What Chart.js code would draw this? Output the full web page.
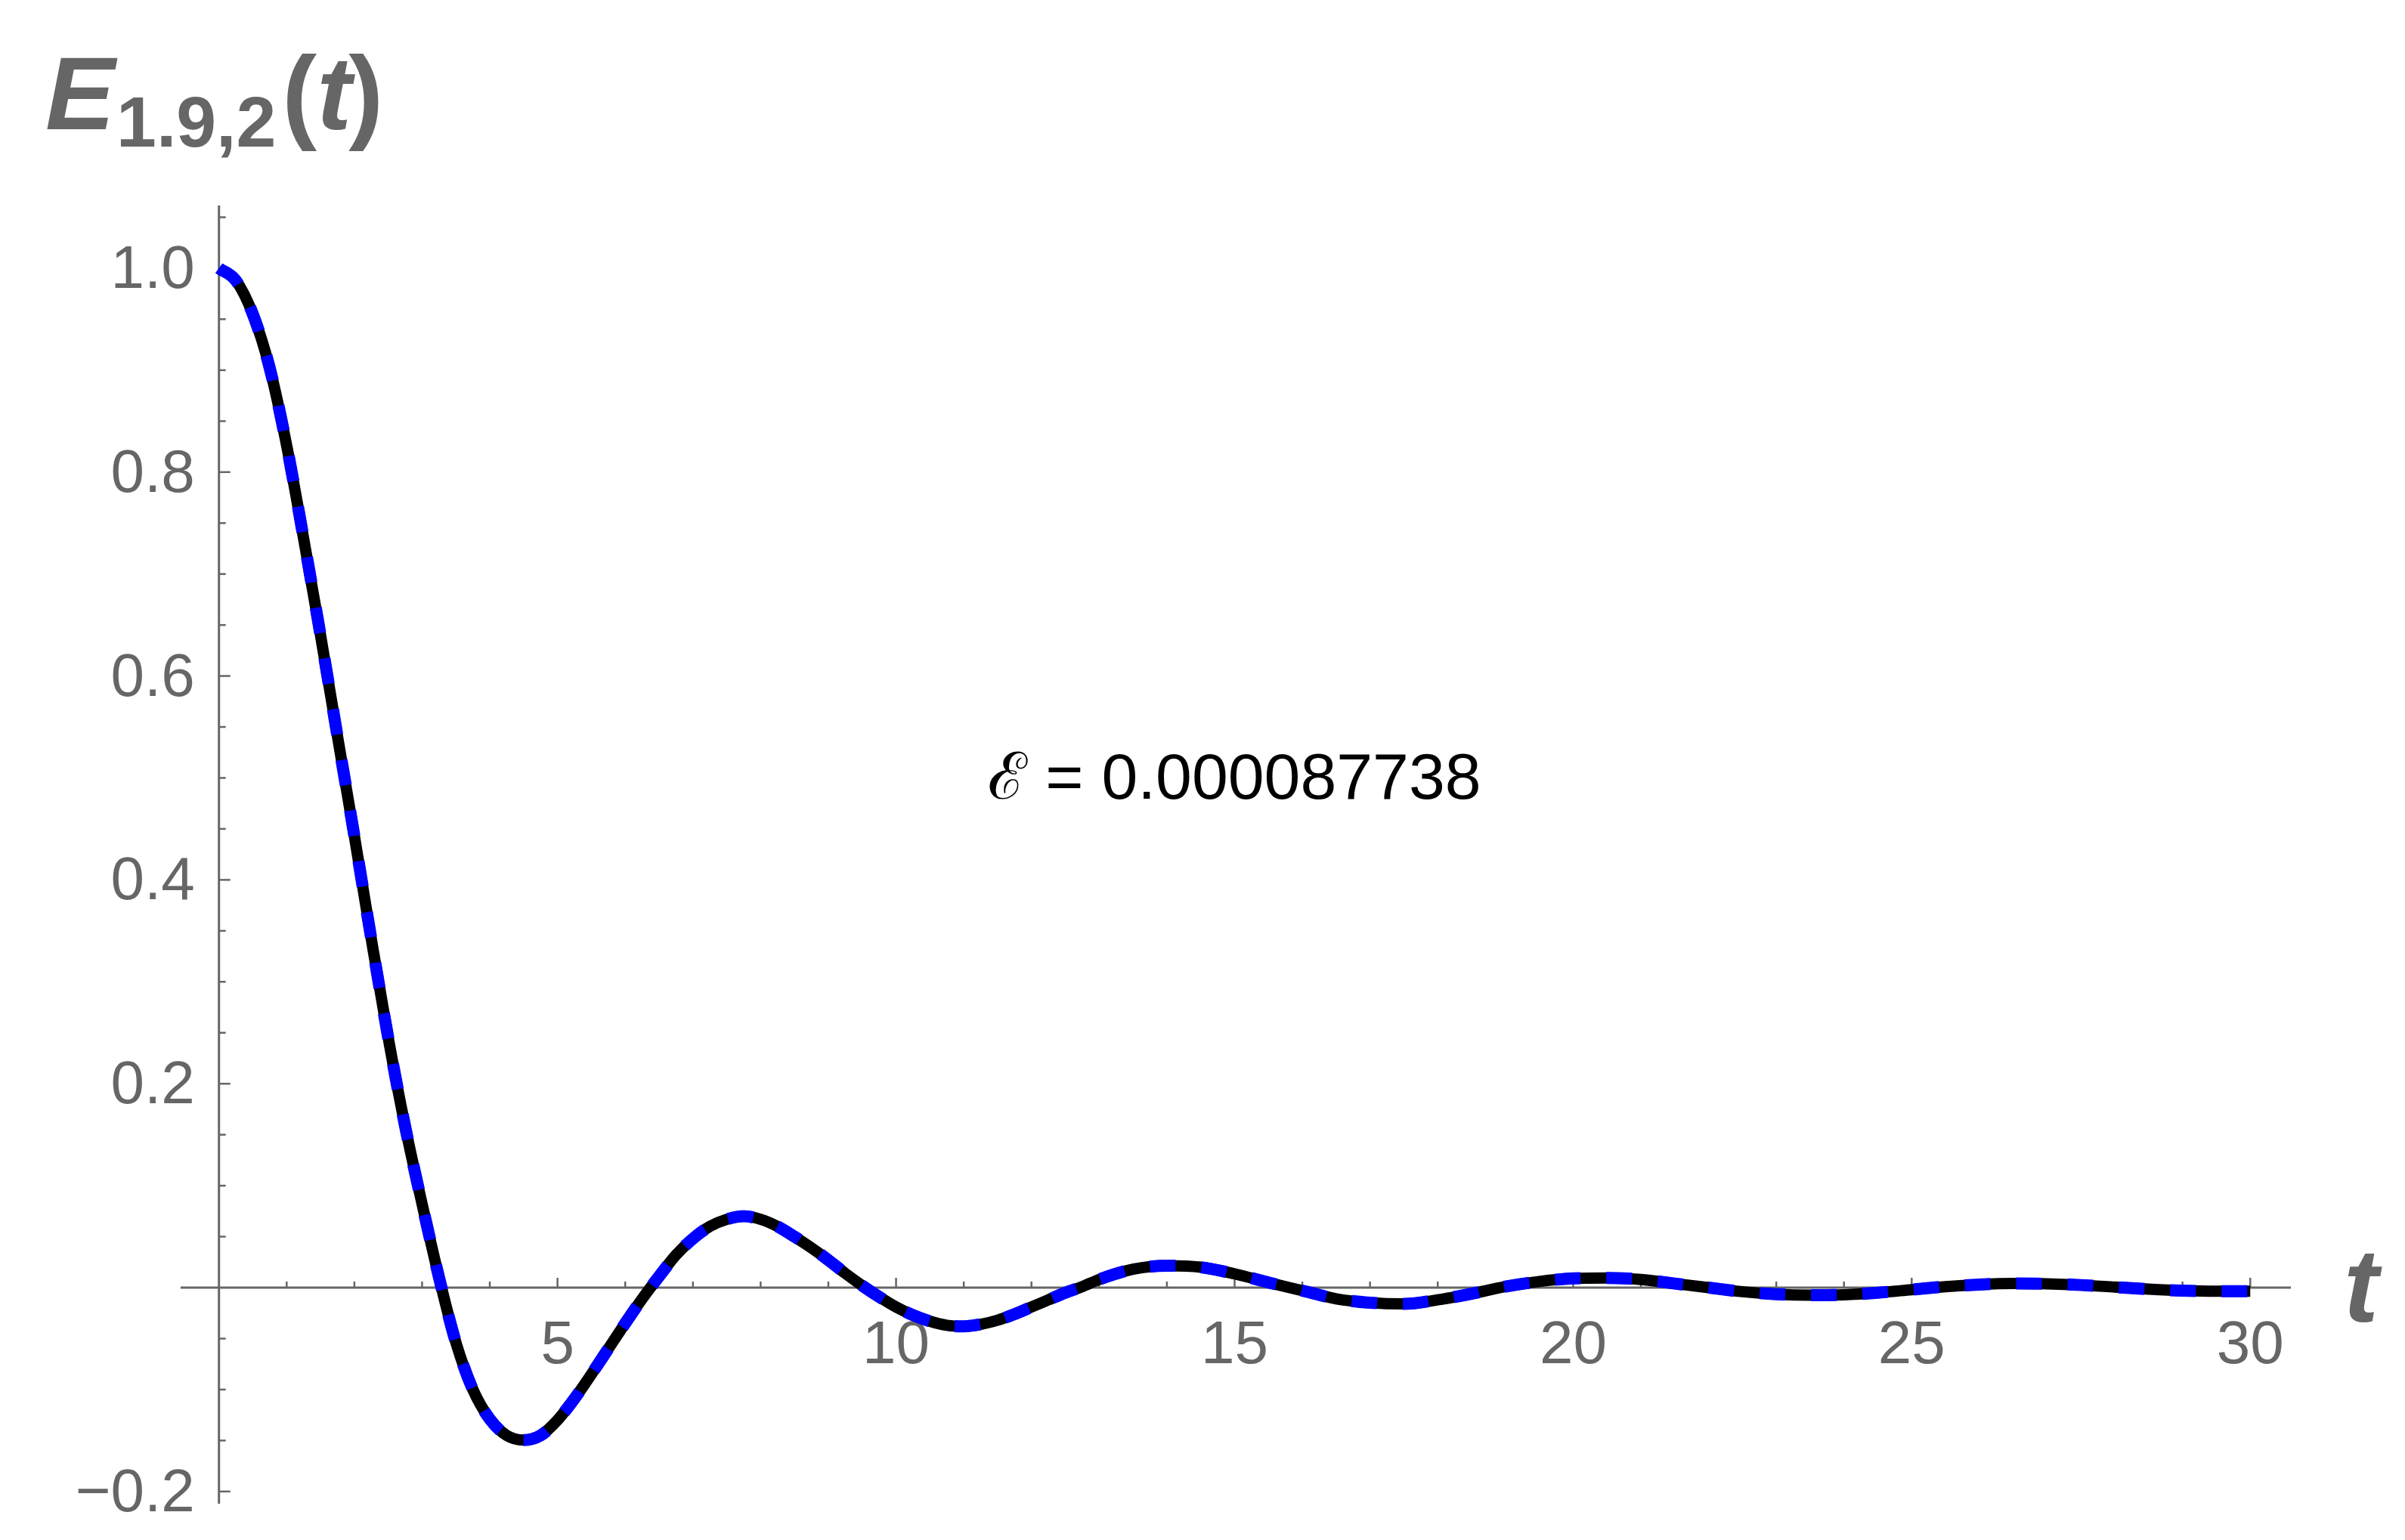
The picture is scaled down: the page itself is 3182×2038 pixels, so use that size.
<!DOCTYPE html>
<html>
<head>
<meta charset="utf-8">
<script src="https://cdn.jsdelivr.net/npm/chart.js@4.4.1/dist/chart.umd.min.js"></script>
<style>
  html, body { margin: 0; padding: 0; background: #fff; }
  canvas { display: block; }
</style>
</head>
<body>
<canvas id="plot" width="3182" height="2038"></canvas>
<script>
(function() {
  const tValues = [
    0, 0.25, 0.5, 0.75, 1, 1.25, 1.5, 1.75, 2, 2.25, 2.5, 2.75, 3, 3.25, 3.5, 3.75,
    4, 4.25, 4.5, 4.75, 5, 5.25, 5.5, 5.75, 6, 6.25, 6.5, 6.75, 7, 7.25, 7.5, 7.75,
    8, 8.25, 8.5, 8.75, 9, 9.25, 9.5, 9.75, 10, 10.25, 10.5, 10.75, 11, 11.25, 11.5, 11.75,
    12, 12.25, 12.5, 12.75, 13, 13.5, 14, 14.5, 15, 15.5, 16, 16.5, 17, 17.5,
    18, 18.5, 19, 19.5, 20, 20.5, 21, 21.5, 22, 22.5, 23, 23.5, 24, 24.5,
    25, 25.5, 26, 26.5, 27, 27.5, 28, 28.5, 29, 29.5, 30
  ];
  const eValues = [
    1.000, 0.988, 0.955, 0.902, 0.826, 0.735, 0.640, 0.541, 0.443, 0.342, 0.245, 0.158, 0.082, 0.010, -0.054, -0.100,
    -0.129, -0.145, -0.1495, -0.145, -0.130, -0.109, -0.085, -0.060, -0.035, -0.011, 0.011, 0.032, 0.048, 0.060, 0.067, 0.070,
    0.067, 0.060, 0.050, 0.039, 0.027, 0.014, 0.002, -0.009, -0.019, -0.027, -0.033, -0.037, -0.038, -0.036, -0.032, -0.026,
    -0.019, -0.012, -0.005, 0.001, 0.008, 0.018, 0.0215, 0.020, 0.0135, 0.005, -0.003, -0.011, -0.0148, -0.016,
    -0.012, -0.006, 0.001, 0.006, 0.009, 0.0095, 0.008, 0.004, 0.000, -0.004, -0.0065, -0.0074, -0.007, -0.005,
    -0.002, 0.001, 0.003, 0.004, 0.0037, 0.0025, 0.0005, -0.0015, -0.003, -0.0036, -0.0035
  ];

  const xTicks = [5, 10, 15, 20, 25, 30];
  const xTickLabels = ['5', '10', '15', '20', '25', '30'];
  const yTicks = [-0.2, 0.2, 0.4, 0.6, 0.8, 1.0];
  const yTickLabels = ['\u22120.2', '0.2', '0.4', '0.6', '0.8', '1.0'];
  const xMinorTicks = [1, 2, 3, 4, 6, 7, 8, 9, 11, 12, 13, 14, 16, 17, 18, 19, 21, 22, 23, 24, 26, 27, 28, 29];
  const yMinorTicks = [-0.15, -0.1, -0.05, 0.05, 0.1, 0.15, 0.25, 0.3, 0.35, 0.45, 0.5, 0.55, 0.65, 0.7, 0.75, 0.85, 0.9, 0.95, 1.05];

  const errorLabel = '\u2130 = 0.000087738';
  const errorAt = { x: 15, y: 0.5 };

  const axisGray = '#666666';
  const tickFont = '80px "Liberation Sans", Arial, sans-serif';

  function line(ctx, x1, y1, x2, y2) {
    ctx.beginPath();
    ctx.moveTo(x1, y1);
    ctx.lineTo(x2, y2);
    ctx.stroke();
  }

  const axesPlugin = {
    id: 'crossedAxes',
    beforeDatasetsDraw(chart) {
      const { ctx, chartArea } = chart;
      const xs = chart.scales.x;
      const ys = chart.scales.y;
      const x0 = xs.getPixelForValue(0);
      const y0 = ys.getPixelForValue(0);

      ctx.save();
      ctx.strokeStyle = axisGray;
      ctx.lineWidth = 3;
      line(ctx, chartArea.left, y0, chartArea.right, y0);
      line(ctx, x0, chartArea.top, x0, chartArea.bottom);

      ctx.lineWidth = 2.5;
      xTicks.forEach(v => {
        const px = xs.getPixelForValue(v);
        line(ctx, px, y0, px, y0 - 13);
      });
      xMinorTicks.forEach(v => {
        const px = xs.getPixelForValue(v);
        line(ctx, px, y0, px, y0 - 8);
      });
      yTicks.forEach(v => {
        const py = ys.getPixelForValue(v);
        line(ctx, x0, py, x0 + 15, py);
      });
      yMinorTicks.forEach(v => {
        const py = ys.getPixelForValue(v);
        line(ctx, x0, py, x0 + 9, py);
      });

      ctx.fillStyle = axisGray;
      ctx.font = tickFont;
      ctx.textBaseline = 'alphabetic';
      ctx.textAlign = 'center';
      xTicks.forEach((v, i) => {
        ctx.fillText(xTickLabels[i], xs.getPixelForValue(v), y0 + 100);
      });
      ctx.textAlign = 'right';
      yTicks.forEach((v, i) => {
        ctx.fillText(yTickLabels[i], x0 - 32, ys.getPixelForValue(v) + 26);
      });

      // axis labels
      ctx.textAlign = 'left';
      ctx.font = 'bold italic 138px "Liberation Sans", Arial, sans-serif';
      ctx.fillText('t', chartArea.right + 70, y0 + 45);

      let cx = 60;
      const base = 171;
      ctx.fillText('E', cx, base);
      cx += ctx.measureText('E').width + 2;
      ctx.font = 'bold 95px "Liberation Sans", Arial, sans-serif';
      ctx.fillText('1.9,2', cx, base + 23);
      cx += ctx.measureText('1.9,2').width + 8;
      ctx.font = 'bold 138px "Liberation Sans", Arial, sans-serif';
      ctx.fillText('(', cx, base);
      cx += ctx.measureText('(').width;
      ctx.font = 'bold italic 138px "Liberation Sans", Arial, sans-serif';
      ctx.fillText('t', cx, base);
      cx += ctx.measureText('t').width - 4;
      ctx.font = 'bold 138px "Liberation Sans", Arial, sans-serif';
      ctx.fillText(')', cx, base);

      ctx.fillStyle = '#000000';
      ctx.font = '86px "Liberation Sans", Arial, sans-serif';
      ctx.textAlign = 'center';
      ctx.fillText(errorLabel, xs.getPixelForValue(errorAt.x), ys.getPixelForValue(errorAt.y) + 28);
      ctx.restore();
    }
  };

  const points = tValues.map((t, i) => ({ x: t, y: eValues[i] }));

  const ctx = document.getElementById('plot').getContext('2d');
  new Chart(ctx, {
    type: 'line',
    data: {
      datasets: [{
        label: 'approximation',
        data: points,
        borderColor: '#0000ff',
        borderWidth: 16,
        borderDash: [34, 34],
        borderCapStyle: 'butt',
        pointRadius: 0,
        cubicInterpolationMode: 'monotone',
        order: 0
      }, {
        label: 'exact',
        data: points,
        borderColor: '#000000',
        borderWidth: 15,
        pointRadius: 0,
        cubicInterpolationMode: 'monotone',
        order: 1
      }]
    },
    options: {
      responsive: false,
      devicePixelRatio: 1,
      animation: false,
      layout: {
        padding: { left: 239, top: 272, right: 151, bottom: 48 }
      },
      scales: {
        x: { type: 'linear', min: -0.566, max: 30.6, display: false },
        y: { type: 'linear', min: -0.212, max: 1.0615, display: false }
      },
      plugins: {
        legend: { display: false },
        tooltip: { enabled: false }
      }
    },
    plugins: [axesPlugin]
  });
})();
</script>
</body>
</html>
